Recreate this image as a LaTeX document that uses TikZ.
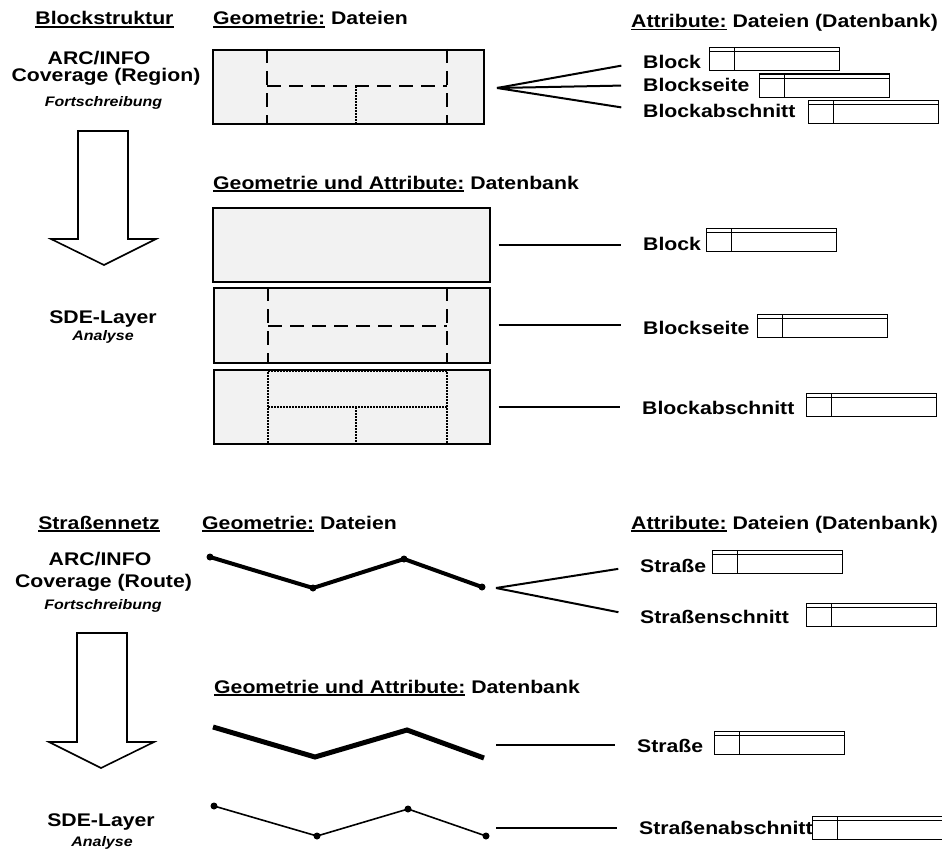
\documentclass[tikz,border=0pt]{standalone}
\usepackage{fontspec}
\setmainfont{Liberation Sans}[FakeStretch=1.16]
\usetikzlibrary{calc,positioning}
\definecolor{boxgray}{RGB}{242,242,242}
\newcommand\ulin[1]{\setbox0=\hbox{#1}\rlap{\rule[-2.8pt]{\wd0}{1.6pt}}\box0\relax}
\tikzset{
  hd/.style      = {font=\fontsize{18.3}{20}\selectfont\bfseries, inner sep=0pt},
  sub/.style     = {font=\fontsize{13.8}{15}\selectfont\bfseries\itshape, inner sep=0pt},
  lbl/.style     = {hd, anchor=base west},
  geobox/.style  = {draw, line width=1.6pt, fill=boxgray, anchor=north west,
                    inner sep=0pt},
  tab/.style     = {draw, line width=1.1pt, anchor=north west, inner sep=0pt,
                    minimum width=130pt, minimum height=23pt,
                    path picture={
                      \draw[line width=1.1pt]
                        ([yshift=-4pt]path picture bounding box.north west) --
                        ([yshift=-4pt]path picture bounding box.north east);
                      \draw[line width=1.1pt]
                        ([xshift=25pt]path picture bounding box.north west) --
                        ([xshift=25pt]path picture bounding box.south west);}},
  dsh/.style     = {line width=1.6pt, dash pattern=on 14pt off 8pt},
  dot/.style     = {line width=1.6pt, dash pattern=on 1.5pt off 1.5pt},
  conn/.style    = {line width=2pt, shorten >=22pt},
  bigarrow/.style= {line width=1.6pt, fill=white, line join=miter},
  vtx/.style     = {circle, fill, inner sep=0pt, minimum size=7pt},
}
\begin{document}
\begin{tikzpicture}[x=1pt, y=-1pt]
  \useasboundingbox (0,0) rectangle (942,851);

  % Blockstruktur
  \node[hd, anchor=base] (tBlk) at (104.5,25) {\ulin{Blockstruktur}};
  \node[lbl] (tGeoA) at (213,25) {\ulin{Geometrie:} Dateien};
  \node[lbl] (tAttA) at (631,27.5) {\ulin{Attribute:} Dateien (Datenbank)};
  \node[hd, anchor=base] (arcA) at (99,64) {ARC/INFO};
  \node[hd, anchor=base] (covA) at (106,81.5) {Coverage (Region)};
  \node[sub, anchor=base] (fsA) at (103.5,106) {Fortschreibung};
  \draw[bigarrow] (78,131) -- (128,131) -- (128,239) -- (156,239) -- (104,265)
    -- (51,239) -- (78,239) -- cycle;
  \node[hd, anchor=base] (sdeA) at (103,323) {SDE-Layer};
  \node[sub, anchor=base] (anA) at (103,340.7) {Analyse};

  \node[geobox, minimum width=271pt, minimum height=74pt] (bxA) at (212,49) {};
  \draw[dsh] (267,49) -- (267,123);
  \draw[dsh] (447,49) -- (447,123);
  \draw[dsh] (267,86) -- (447,86);
  \draw[dot, line width=1.2pt] (356,86) -- (356,123);

  \coordinate (apA) at (497,88);
  \node[lbl] (lbA1) at (643,68.3) {Block};
  \node[lbl] (lbA2) at (643,91.7) {Blockseite};
  \node[lbl] (lbA3) at (643,117.3) {Blockabschnitt};
  \node[tab] (tbA1) at (709,47) {};
  \node[tab] (tbA2) at (759,73.5) {};
  \node[tab] (tbA3) at (808,99.5) {};
  \foreach \l in {lbA1,lbA2,lbA3}
    \draw[conn] (apA) -- (\l.west);

  % Datenbank
  \node[lbl] (tGeoB) at (213,189) {\ulin{Geometrie und Attribute:} Datenbank};
  \node[geobox, minimum width=277pt, minimum height=74pt] (bxB1) at (212,207) {};
  \node[geobox, minimum width=276pt, minimum height=75pt] (bxB2) at (213,287) {};
  \node[geobox, minimum width=276pt, minimum height=74pt] (bxB3) at (213,369) {};
  \draw[dsh] (268,287) -- (268,362);
  \draw[dsh] (447,287) -- (447,362);
  \draw[dsh] (268,326) -- (447,326);
  \draw[dot] (268,371) -- (447,371);
  \draw[dot] (268,369) -- (268,443);
  \draw[dot] (447,369) -- (447,443);
  \draw[dot] (268,407) -- (447,407);
  \draw[dot] (356,407) -- (356,443);

  \node[lbl] (lbB1) at (643,250.7) {Block};
  \node[lbl] (lbB2) at (643,334) {Blockseite};
  \node[lbl] (lbB3) at (642,414) {Blockabschnitt};
  \node[tab] (tbB1) at (706,228) {};
  \node[tab] (tbB2) at (757,313.5) {};
  \node[tab] (tbB3) at (806,393) {};
  \foreach \b/\l in {bxB1/lbB1,bxB2/lbB2,bxB3/lbB3}
    \draw[conn] ([xshift=8pt]\b.east) -- (\b.east -| \l.west);

  % Strassennetz
  \node[hd, anchor=base] (tStr) at (99,529) {\ulin{Straßennetz}};
  \node[lbl] (tGeoC) at (202,529) {\ulin{Geometrie:} Dateien};
  \node[lbl] (tAttC) at (631,529) {\ulin{Attribute:} Dateien (Datenbank)};
  \node[hd, anchor=base] (arcC) at (100,565) {ARC/INFO};
  \node[hd, anchor=base] (covC) at (103.5,587) {Coverage (Route)};
  \node[sub, anchor=base] (fsC) at (103,609) {Fortschreibung};
  \draw[bigarrow] (77,633) -- (127,633) -- (127,742) -- (154,742) -- (101,768)
    -- (49,742) -- (77,742) -- cycle;
  \node[hd, anchor=base] (sdeC) at (101,826) {SDE-Layer};
  \node[sub, anchor=base] (anC) at (102,846.7) {Analyse};

  \node[vtx] (rA1) at (210,557) {};
  \node[vtx] (rA2) at (313,588) {};
  \node[vtx] (rA3) at (404,559) {};
  \node[vtx] (rA4) at (482,587) {};
  \draw[line width=4pt] (rA1.center) -- (rA2.center) -- (rA3.center) -- (rA4.center);

  \coordinate (apC) at (496,588);
  \node[lbl] (lbC1) at (640,572) {Straße};
  \node[lbl] (lbC2) at (640,623) {Straßenschnitt};
  \node[tab] (tbC1) at (712,549.5) {};
  \node[tab] (tbC2) at (806,603) {};
  \foreach \l in {lbC1,lbC2}
    \draw[conn] (apC) -- (\l.west);

  % Datenbank
  \node[lbl] (tGeoD) at (214,693) {\ulin{Geometrie und Attribute:} Datenbank};
  \coordinate (rB1) at (213,727);
  \coordinate (rB2) at (315,757);
  \coordinate (rB3) at (407,730);
  \coordinate (rB4) at (484,758);
  \draw[line width=5pt] (rB1) -- (rB2) -- (rB3) -- (rB4);
  \node[vtx] (rC1) at (214,806) {};
  \node[vtx] (rC2) at (317,836) {};
  \node[vtx] (rC3) at (408,809) {};
  \node[vtx] (rC4) at (486,836) {};
  \draw[line width=1.6pt] (rC1.center) -- (rC2.center) -- (rC3.center) -- (rC4.center);

  \node[lbl] (lbD1) at (637,752) {Straße};
  \node[lbl] (lbD2) at (639,834) {Straßenabschnitt};
  \node[tab] (tbD1) at (714,731) {};
  \node[tab] (tbD2) at (812,815.5) {};
  \coordinate (sD1) at (496,745);
  \coordinate (sD2) at (496,828);
  \draw[conn] (sD1) -- (sD1 -| lbD1.west);
  \draw[conn] (sD2) -- (sD2 -| lbD2.west);
\end{tikzpicture}
\end{document}
